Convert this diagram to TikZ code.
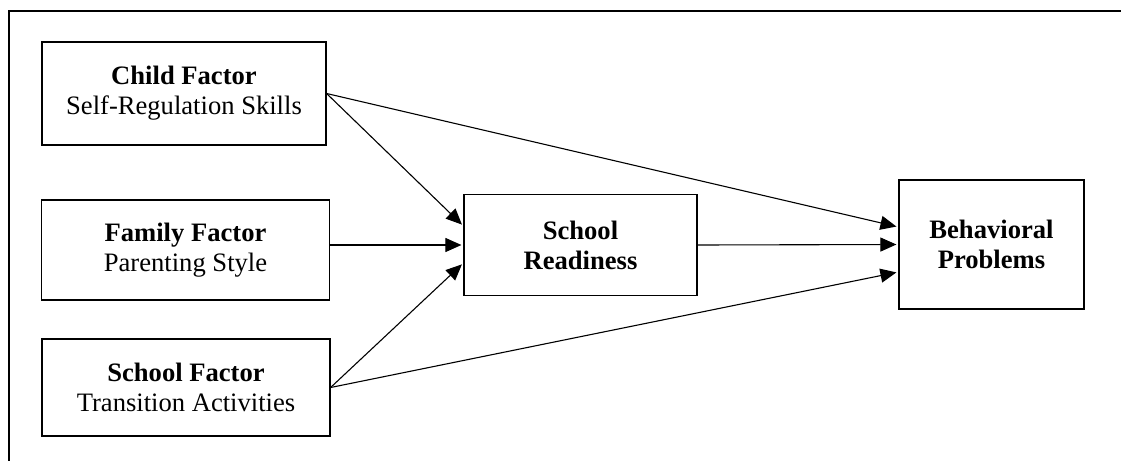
\documentclass[tikz,border=0pt]{standalone}
\usepackage{fontspec}
\setmainfont{Liberation Serif}
\usepackage{tikz}
\usetikzlibrary{arrows.meta, positioning}

\begin{document}
\begin{tikzpicture}[
  x=0.5pt, y=-0.5pt,
  every node/.style={draw, line width=0.6pt, align=center, inner sep=2pt,
    font=\fontsize{13.3}{15}\selectfont},
  factor/.style={minimum width=144pt, minimum height=50pt},
  arr/.style={-{Triangle[length=8pt,width=7pt]}, line width=0.55pt, shorten >=1pt}
]
\useasboundingbox (0,0) rectangle (1121,461);
% frame
\draw[line width=0.7pt] (9,461) -- (9,11) -- (1121,11);

\node[factor, minimum width=142pt, minimum height=51.5pt] (child) at (184,93.5)
  {\textbf{Child Factor}\\Self-Regulation Skills};
\node[factor] (family) at (185.5,250)
  {\textbf{Family Factor}\\Parenting Style};
\node[factor, minimum height=48.5pt] (school) at (186,387.5)
  {\textbf{School Factor}\\Transition Activities};
\node[minimum width=116.5pt, minimum height=50.5pt] (ready) at (580.5,245)
  {\textbf{School}\\\textbf{Readiness}};
\node[minimum width=92.5pt, minimum height=64.5pt] (behav) at (991.5,244.5)
  {\textbf{Behavioral}\\\textbf{Problems}};

\draw[arr] (child.east) -- ([yshift=9.5pt]ready.west);
\draw[arr] (family.east |- ready.west) -- (ready.west);
\draw[arr] (school.east) -- ([yshift=-9pt]ready.west);
\draw[arr] (child.east) -- ([yshift=8.75pt]behav.west);
\draw[arr] (ready.east) -- (behav.west);
\draw[arr] (school.east) -- ([yshift=-13.75pt]behav.west);
\end{tikzpicture}
\end{document}
